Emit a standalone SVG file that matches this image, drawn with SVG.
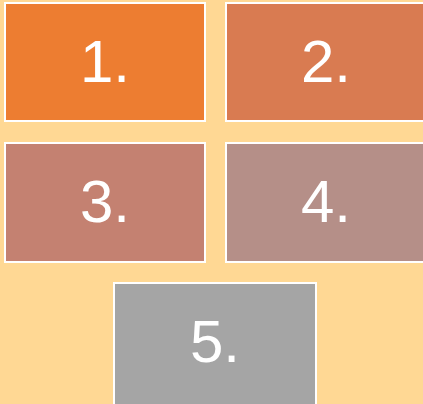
<svg xmlns="http://www.w3.org/2000/svg" width="423" height="404" viewBox="0 0 423 404">
<style>
.box{stroke:#FFFFFF;stroke-width:2}
.lbl{fill:#FFFFFF;font-family:"Liberation Sans",Arial,sans-serif;font-size:60px;text-anchor:middle}
</style>
<rect x="0" y="0" width="423" height="404" fill="#FFD894"/>
<g id="node1"><rect class="box" x="5" y="3" width="200" height="118" fill="#ED7D31"/><text class="lbl" x="105" y="82">1.</text></g>
<g id="node2"><rect class="box" x="226" y="3" width="200" height="118" fill="#D97B51"/><text class="lbl" x="326" y="82">2.</text></g>
<g id="node3"><rect class="box" x="5" y="143" width="200" height="119" fill="#C48171"/><text class="lbl" x="105" y="222">3.</text></g>
<g id="node4"><rect class="box" x="226" y="143" width="200" height="119" fill="#B58F88"/><text class="lbl" x="326" y="222">4.</text></g>
<g id="node5"><rect class="box" x="114" y="283" width="202" height="124" fill="#A5A5A5"/><text class="lbl" x="215" y="362">5.</text></g>
<g id="connectors"></g>
</svg>
